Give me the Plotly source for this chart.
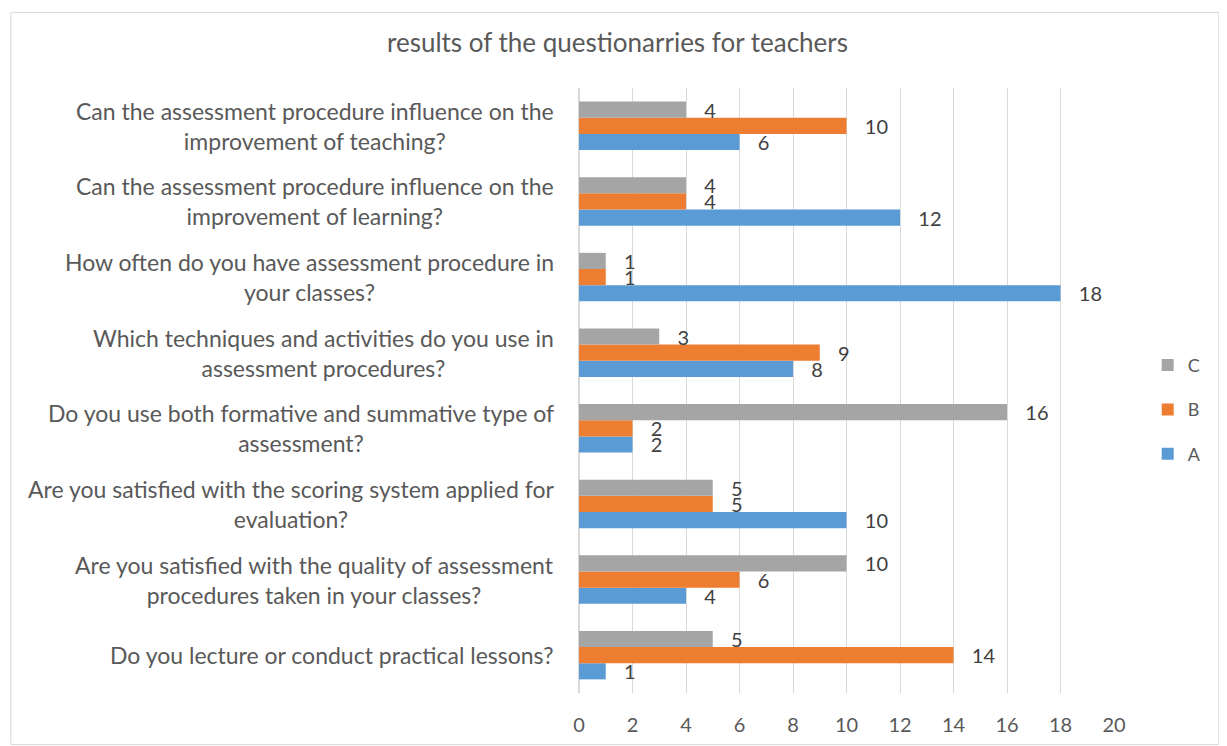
import plotly.graph_objects as go

# categories listed bottom to top
categories = [
    "Do you lecture or conduct practical lessons?",
    "Are you satisfied with the quality of assessment<br>procedures taken in your classes?",
    "Are you satisfied with the scoring system applied for<br>evaluation?",
    "Do you use both formative and summative type of<br>assessment?",
    "Which techniques and activities do you use in<br>assessment procedures?",
    "How often do you have assessment procedure in<br>your classes?",
    "Can the assessment procedure influence on the<br>improvement of learning?",
    "Can the assessment procedure influence on the<br>improvement of teaching?",
]
series_A = [1, 4, 10, 2, 8, 18, 12, 6]
series_B = [14, 6, 5, 2, 9, 1, 4, 10]
series_C = [5, 10, 5, 16, 3, 1, 4, 4]
x_ticks = [0, 2, 4, 6, 8, 10, 12, 14, 16, 18, 20]

FONT = "Lato"
TXT = "#595959"
NB = "\u00a0"

fig = go.Figure()
for name, vals, col, rank in [("A", series_A, "#5B9BD5", 3), ("B", series_B, "#ED7D31", 2), ("C", series_C, "#A5A5A5", 1)]:
    fig.add_trace(go.Bar(
        y=categories, x=vals, name=name, orientation="h",
        marker=dict(color=col, line=dict(width=0)),
        text=[NB * 3 + str(v) for v in vals], textposition="outside",
        textfont=dict(family=FONT, size=20, color="#404040"),
        constraintext="none",
        cliponaxis=False, legendgroup=name, legendrank=rank,
    ))

for c in categories:
    fig.add_annotation(
        x=-0.043, xref="paper", y=c, yref="y", text=c, showarrow=False,
        xanchor="right", align="center",
        font=dict(family=FONT, size=23, color=TXT),
    )

fig.update_layout(
    width=1219, height=738,
    barmode="group", bargap=0.36, bargroupgap=0,
    paper_bgcolor="white", plot_bgcolor="white",
    margin=dict(l=571, r=113, t=80, b=53, autoexpand=False),
    title=dict(text="results of the questionarries for teachers", x=0.5, xanchor="center",
               xref="container", y=1 - 35 / 738, yref="container", yanchor="middle",
               font=dict(family=FONT, size=26, color=TXT)),
    xaxis=dict(range=[0, 20], tickvals=x_ticks, showgrid=True, gridcolor="#D9D9D9",
               gridwidth=1, zeroline=True, zerolinecolor="#D9D9D9", showline=False,
               tickfont=dict(family=FONT, size=20, color=TXT), ticks="", ticklabelstandoff=18,
               automargin=False),
    yaxis=dict(showticklabels=False, showgrid=False, ticks="", showline=False,
               range=[-0.5, 7.5], automargin=False),
    legend=dict(x=1.063, xanchor="left", y=0.468, yanchor="middle", traceorder="grouped",
                tracegroupgap=18, font=dict(family=FONT, size=18, color=TXT),
                itemwidth=30, bgcolor="rgba(0,0,0,0)"),
    showlegend=True,
)
fig.add_shape(type="rect", xref="paper", yref="paper", x0=-1.062, x1=1.196, y0=-0.085, y1=1.125,
              line=dict(color="#D9D9D9", width=1), fillcolor="rgba(0,0,0,0)", layer="below")

fig.write_html("out.html")
